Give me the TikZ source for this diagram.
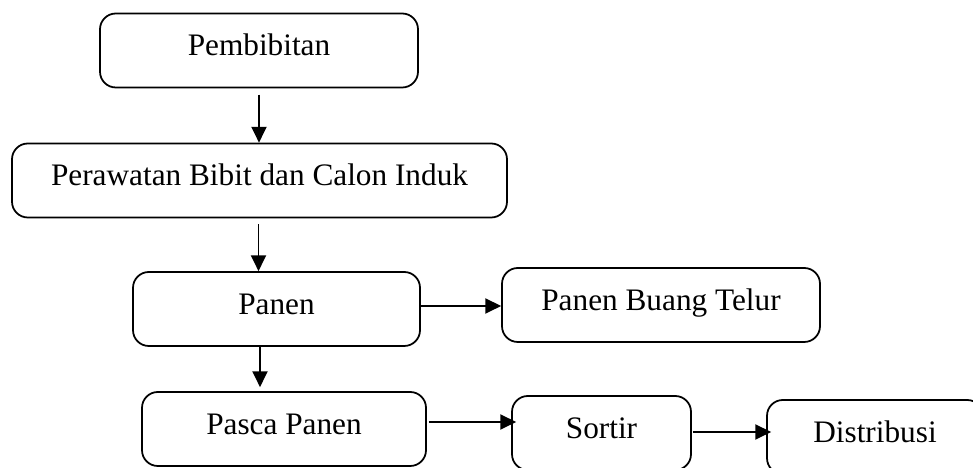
\documentclass[tikz,border=0pt]{standalone}
\usepackage{fontspec}
\setmainfont{Liberation Serif}
\usetikzlibrary{arrows.meta}

\begin{document}
\begin{tikzpicture}[every node/.style={font=\fontsize{8.9}{10.5}\selectfont},
  stage/.style={draw, line width=0.5pt, rounded corners=4.5pt, minimum height=0.74cm,
    text height=6pt, text depth=3pt, inner sep=0pt},
  flow/.style={line width=0.5pt, -{Triangle[length=4.5pt,width=4.3pt]}}]
  \useasboundingbox (0,0) rectangle (9.73,4.68);
  \clip (0,0) rectangle (9.73,4.68);
  \node[stage, minimum width=3.18cm] (bibit) at (2.59,4.175) {Pembibitan};
  \node[stage, minimum width=4.95cm] (rawat) at (2.595,2.875) {Perawatan Bibit dan Calon Induk};
  \node[stage, minimum width=2.87cm] (panen) at (2.765,1.59) {Panen};
  \node[stage, minimum width=3.18cm] (buang) at (6.61,1.63) {Panen Buang Telur};
  \node[stage, minimum width=2.84cm] (pasca) at (2.84,0.39) {Pasca Panen};
  \node[stage, minimum width=1.79cm] (sortir) at (6.015,0.35) {Sortir};
  \node[stage, minimum width=2.16cm] (distri) at (8.75,0.31) {Distribusi};
  \draw[flow, shorten <=1.8pt] (bibit.south) -- (bibit.south |- rawat.north);
  \draw[flow, shorten <=1.7pt] ([xshift=-0.01cm]rawat.south) -- ([xshift=-0.01cm]rawat.south |- panen.north);
  \draw[flow] ([yshift=0.03cm]panen.east) -- ([yshift=0.03cm]panen.east -| buang.west);
  \draw[flow] ([xshift=-0.165cm]panen.south) -- ([xshift=-0.165cm, yshift=0.04cm]panen.south |- pasca.north);
  \draw[flow] ([xshift=0.02cm, yshift=0.07cm]pasca.east) -- ([xshift=0.05cm, yshift=0.07cm]pasca.east -| sortir.west);
  \draw[flow] ([xshift=0.01cm, yshift=0.01cm]sortir.east) -- ([xshift=0.05cm, yshift=0.01cm]sortir.east -| distri.west);
\end{tikzpicture}
\end{document}
